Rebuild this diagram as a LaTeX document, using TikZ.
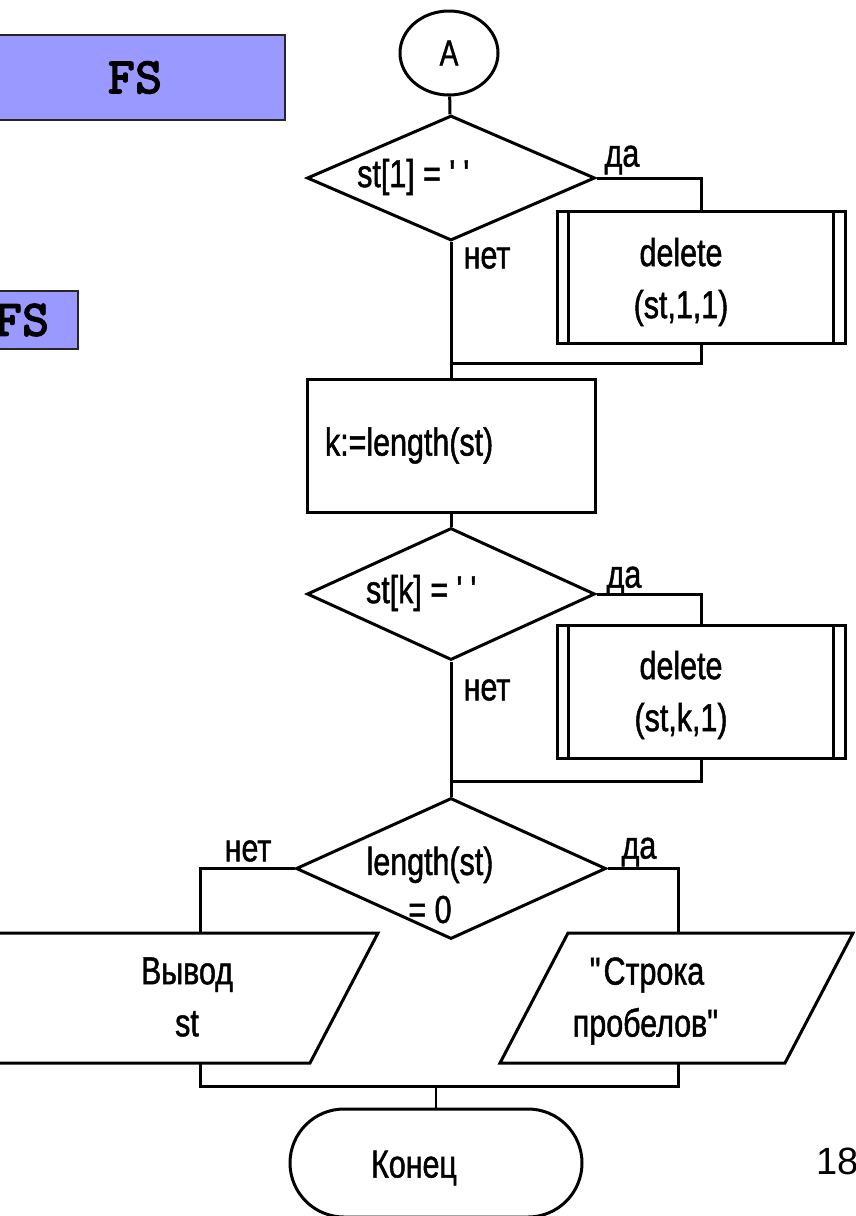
\documentclass[tikz,border=0pt]{standalone}
\usepackage{fontspec}
\setmainfont{Liberation Sans}[FakeStretch=0.78, FakeBold=1.2]
\newfontfamily\pagefont{Liberation Sans}
\newfontfamily\codefont{lmmonolt10-bold.otf}[FakeBold=1.5]
\usetikzlibrary{shapes.geometric,shapes.misc}
\definecolor{fsblue}{RGB}{153,153,255}
\tikzset{
  fc/.style={draw, line width=3pt, inner sep=0pt},
  decision/.style={fc, diamond, minimum width=288pt, minimum height=128pt},
  process/.style={fc, rectangle, minimum width=288pt, minimum height=133pt},
  terminal/.style={fc, rounded rectangle, minimum width=292pt, minimum height=108pt},
  conn/.style={line width=3pt},
  txt/.style={inner sep=0pt, align=center, font=\fontsize{39}{52}\selectfont},
  fsbox/.style={draw=black!85, line width=1.5pt, fill=fsblue, inner sep=0pt,
    font=\codefont\fontsize{52}{54}\selectfont}
}
\begin{document}
\begin{tikzpicture}[x=1pt,y=-1pt]
    \useasboundingbox (0,0) rectangle (855,1216);
    \clip (0,0) rectangle (855,1216);
    \node[fsbox, minimum width=300pt, minimum height=85pt] (fs1) at (135,77.5) {FS};
    \node[fsbox, minimum width=112pt, minimum height=58pt] (fs2) at (22,320) {FS};

    \node[fc, ellipse, minimum width=98pt, minimum height=84pt, font=\fontsize{36}{38}\selectfont] (A) at (449,53) {A};
    \node[decision, minimum height=125pt] (d1) at (451,178) {};
    \node[txt] (d1t) at (414,177) {st[1] = \textquotesingle\,\textquotesingle};
    \node[txt] (y1) at (622,160) {да};
    \node[txt] (n1) at (487,258) {нет};
    \node[process, minimum height=132pt] (del1) at (701,277) {};
    \node[txt] (del1t) at (681,282) {delete\\(st,1,1)};
    \coordinate (j1) at (451,363);

    \node[process, text width=252pt, align=left, font=\fontsize{39}{42}\selectfont] (k) at (451,445.5) {k:=length(st)};

    \node[decision, minimum height=132pt] (d2) at (451,594) {};
    \node[txt] (d2t) at (422,593) {st[k] = \textquotesingle\,\textquotesingle};
    \node[txt] (y2) at (624,581) {да};
    \node[txt] (n2) at (487,690) {нет};
    \node[process] (del2) at (701,691.5) {};
    \node[txt] (del2t) at (681,695) {delete\\(st,k,1)};
    \coordinate (j2) at (451,781);

    \node[decision, minimum width=310pt, minimum height=141pt] (d3) at (451,868.5) {};
    \node[txt, font=\fontsize{39}{48}\selectfont] (d3t) at (430,885) {length(st)\\= 0};
    \node[txt] (n3) at (248,851) {нет};
    \node[txt] (y3) at (639,852) {да};

    \draw[conn] (-110,1063) -- (-40,933) -- (378,933) -- (310,1063) -- cycle;
    \node[txt] (out1) at (187,997) {Вывод\\st};
    \draw[conn] (500,1063) -- (568,933) -- (853,933) -- (785,1063) -- cycle;
    \node[txt] (out2) at (647,1001) {\textquotedbl Строка\\пробелов\textquotedbl};
    \coordinate (o1t) at (200,933);
    \coordinate (o1b) at (200,1063);
    \coordinate (o2t) at (678,933);
    \coordinate (o2b) at (678,1063);
    \coordinate (m1) at (200,1086);
    \coordinate (m2) at (678,1086);

    \node[terminal] (end) at (436,1163) {};
    \node[txt] (endt) at (414,1168) {Конец};
    \node[inner sep=0pt, anchor=base west, font=\pagefont\fontsize{38}{40}\selectfont] (pg) at (816,1174) {18};

    \foreach \b in {del1,del2}{
        \draw[conn] ([xshift=13pt]\b.north west) -- ([xshift=13pt]\b.south west);
        \draw[conn] ([xshift=-13pt]\b.north east) -- ([xshift=-13pt]\b.south east);
    }
    \draw[conn] (A) -- (d1);
    \draw[conn] (d1.east) -| (del1.north);
    \draw[conn] (del1.south) |- (j1);
    \draw[conn] (d1.south) -- (k);
    \draw[conn] (k) -- (d2);
    \draw[conn] (d2.east) -| (del2.north);
    \draw[conn] (del2.south) |- (j2);
    \draw[conn] (d2.south) -- (d3);
    \draw[conn] (d3.west) -| (o1t);
    \draw[conn] (d3.east) -| (o2t);
    \draw[conn] (o1b) -- (m1) -- (m2) -- (o2b);
    \draw[line width=1.5pt] (end.north) -- (end.north |- m1);
\end{tikzpicture}
\end{document}
